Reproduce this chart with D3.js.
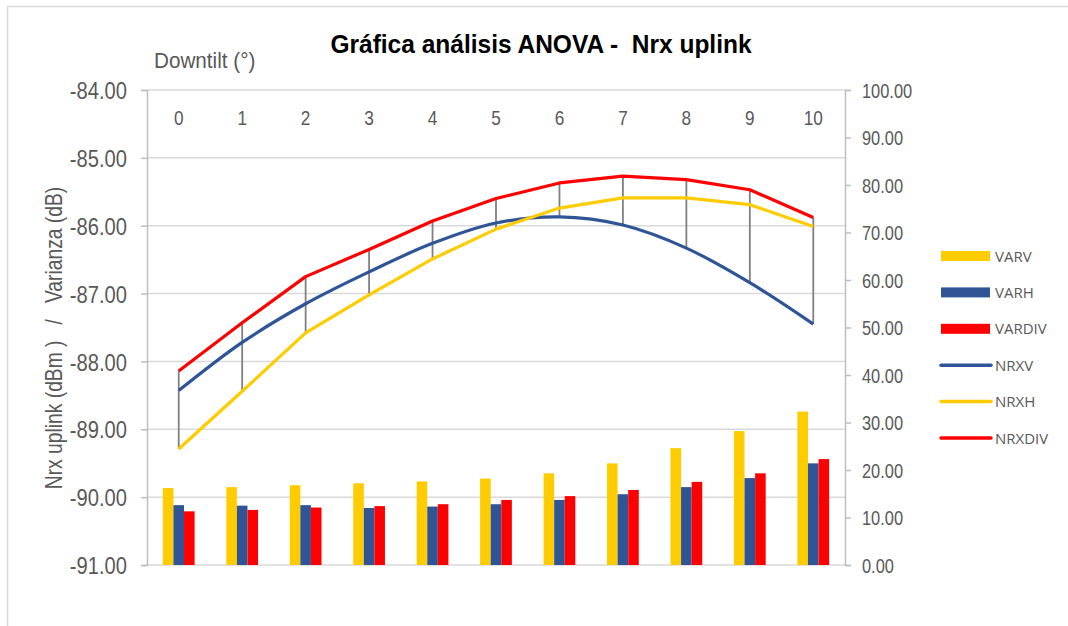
<!DOCTYPE html>
<html>
<head>
<meta charset="utf-8">
<title>Gráfica análisis ANOVA - Nrx uplink</title>
<script src="https://d3js.org/d3.v7.min.js"></script>
<style>
    * { margin: 0; padding: 0; }
    body { background: #fff; }
    text { font-family: "Liberation Sans", Arial, sans-serif; fill: #595959; white-space: pre; }
    .legend text { font-family: "Open Sans", "Liberation Sans", sans-serif; font-size: 15px; }
</style>
</head>
<body>
<script>
// categorias (downtilt en grados)
var downtilt = [0, 1, 2, 3, 4, 5, 6, 7, 8, 9, 10];

// varianzas (dB) - eje derecho
var varV   = [16.2, 16.4, 16.8, 17.2, 17.6, 18.2, 19.3, 21.4, 24.6, 28.2, 32.3];
var varH   = [12.6, 12.5, 12.6, 12.0, 12.3, 12.8, 13.7, 14.9, 16.4, 18.3, 21.4];
var varDiv = [11.3, 11.6, 12.1, 12.4, 12.8, 13.7, 14.5, 15.8, 17.5, 19.3, 22.3];

// Nrx uplink (dBm) - eje izquierdo
var nrxV   = [-88.43, -87.72, -87.15, -86.68, -86.26, -85.96, -85.87, -85.99, -86.33, -86.84, -87.45];
var nrxH   = [-89.29, -88.44, -87.58, -87.02, -86.49, -86.05, -85.74, -85.59, -85.59, -85.69, -86.01];
var nrxDiv = [-88.14, -87.43, -86.75, -86.35, -85.93, -85.60, -85.37, -85.27, -85.32, -85.47, -85.88];

var leftTicks  = [-84, -85, -86, -87, -88, -89, -90, -91];
var rightTicks = [0, 10, 20, 30, 40, 50, 60, 70, 80, 90, 100];

var W = 1068, H = 626;
var plot = { left: 147, right: 845, top: 90, bottom: 565 };

var svg = d3.select("body").append("svg").attr("width", W).attr("height", H);

// imita una fuente estrecha (Arial Narrow) escalando en horizontal
function narrow(k) {
    return function (sel) {
        sel.each(function () {
            var t = d3.select(this);
            var tx = +t.attr("x") || 0, ty = +t.attr("y") || 0;
            var prev = t.attr("transform") || "";
            t.attr("x", 0).attr("y", 0)
                .attr("transform", prev + " translate(" + tx + "," + ty + ") scale(" + k + ",1)");
        });
    };
}

// marco del grafico
svg.append("rect").attr("x", 7.5).attr("y", 6.5).attr("width", W).attr("height", H)
    .attr("fill", "none").attr("stroke", "#d9d9d9").attr("stroke-width", 1.5);

var x = d3.scaleBand().domain(downtilt).range([plot.left, plot.right]);
var xBar = d3.scaleBand().domain(["v", "h", "div"]).range([0, x.bandwidth() * 0.5]);
var yL = d3.scaleLinear().domain([-91, -84]).range([plot.bottom, plot.top]);
var yR = d3.scaleLinear().domain([0, 100]).range([plot.bottom, plot.top]);

// lineas de cuadricula
svg.append("g").selectAll("line").data(leftTicks).join("line")
    .attr("x1", plot.left).attr("x2", plot.right)
    .attr("y1", function (d) { return yL(d); }).attr("y2", function (d) { return yL(d); })
    .attr("stroke", "#d9d9d9").attr("stroke-width", 1.5);

var fmt = function (d) { return d.toFixed(2); };

// eje izquierdo
var axL = svg.append("g").attr("transform", "translate(" + plot.left + ",0)")
    .call(d3.axisLeft(yL).tickValues(leftTicks).tickSize(6).tickPadding(14).tickFormat(fmt));
axL.selectAll("text").attr("font-size", 24).attr("fill", "#595959").attr("dy", "0.36em").call(narrow(0.84));

// eje derecho
var axR = svg.append("g").attr("transform", "translate(" + plot.right + ",0)")
    .call(d3.axisRight(yR).tickValues(rightTicks).tickSize(6).tickPadding(11).tickFormat(fmt));
axR.selectAll("text").attr("font-size", 20.5).attr("fill", "#595959").attr("dy", "0.36em").call(narrow(0.8));

[axL, axR].forEach(function (a) {
    a.select(".domain").attr("stroke", "#bfbfbf").attr("stroke-width", 1.5);
    a.selectAll(".tick line").attr("stroke", "#bfbfbf").attr("stroke-width", 1.5);
});

// etiquetas de categoria arriba
svg.append("g").selectAll("text").data(downtilt).join("text")
    .attr("x", function (d) { return x(d) + x.bandwidth() / 2; })
    .attr("y", 125)
    .attr("text-anchor", "middle").attr("font-size", 21)
    .text(function (d) { return d; })
    .call(narrow(0.82));

svg.append("text").attr("x", 154).attr("y", 68).attr("font-size", 22).text("Downtilt (°)").call(narrow(0.94));

// titulo
svg.append("text").attr("x", 541).attr("y", 53).attr("text-anchor", "middle")
    .attr("font-size", 25).attr("font-weight", "bold").style("fill", "#000")
    .text("Gráfica análisis ANOVA -  Nrx uplink")
    .call(narrow(0.98));

// titulo eje y
svg.append("text").attr("transform", "translate(62,338) rotate(-90)")
    .attr("text-anchor", "middle").attr("font-size", 23.5)
    .text("Nrx uplink (dBm )   /   Varianza (dB)")
    .call(narrow(0.82));

// barras
var barSeries = [
    { key: "v", vals: varV, color: "#ffcc00" },
    { key: "h", vals: varH, color: "#2f5597" },
    { key: "div", vals: varDiv, color: "#ff0000" }
];
var bars = svg.append("g");
barSeries.forEach(function (s) {
    bars.append("g").selectAll("rect").data(s.vals).join("rect")
        .attr("x", function (d, i) { return x(downtilt[i]) + x.bandwidth() * 0.25 + xBar(s.key); })
        .attr("width", xBar.bandwidth())
        .attr("y", function (d) { return yR(d); })
        .attr("height", function (d) { return yR(0) - yR(d); })
        .attr("fill", s.color);
});

// lineas alto-bajo
var hiLo = downtilt.map(function (d, i) {
    var v = [nrxV[i], nrxH[i], nrxDiv[i]];
    return { c: d, hi: d3.max(v), lo: d3.min(v) };
});
svg.append("g").selectAll("line").data(hiLo).join("line")
    .attr("x1", function (d) { return x(d.c) + x.bandwidth() / 2; })
    .attr("x2", function (d) { return x(d.c) + x.bandwidth() / 2; })
    .attr("y1", function (d) { return yL(d.hi); })
    .attr("y2", function (d) { return yL(d.lo); })
    .attr("stroke", "#808080").attr("stroke-width", 1.8);

// series de linea
var lineSeries = [
    { vals: nrxV, color: "#2f5597", curve: d3.curveCatmullRom },
    { vals: nrxH, color: "#ffcc00", curve: d3.curveLinear },
    { vals: nrxDiv, color: "#ff0000", curve: d3.curveLinear }
];
lineSeries.forEach(function (s) {
    var line = d3.line()
        .x(function (d, i) { return x(downtilt[i]) + x.bandwidth() / 2; })
        .y(function (d) { return yL(d); })
        .curve(s.curve);
    svg.append("path").attr("d", line(s.vals))
        .attr("fill", "none").attr("stroke", s.color).attr("stroke-width", 3.2)
        .attr("stroke-linejoin", "round");
});

// leyenda
var legendItems = [
    { name: "VARV", color: "#ffcc00", type: "bar" },
    { name: "VARH", color: "#2f5597", type: "bar" },
    { name: "VARDIV", color: "#ff0000", type: "bar" },
    { name: "NRXV", color: "#2f5597", type: "line" },
    { name: "NRXH", color: "#ffcc00", type: "line" },
    { name: "NRXDIV", color: "#ff0000", type: "line" }
];
var lg = svg.append("g").attr("class", "legend");
var li = lg.selectAll("g").data(legendItems).join("g")
    .attr("transform", function (d, i) { return "translate(941," + (256 + i * 36.4) + ")"; });
li.filter(function (d) { return d.type === "bar"; }).append("rect")
    .attr("x", 0).attr("y", -5).attr("width", 49).attr("height", 10).attr("fill", function (d) { return d.color; });
li.filter(function (d) { return d.type === "line"; }).append("line")
    .attr("x1", 0).attr("x2", 50).attr("y1", 0).attr("y2", 0)
    .attr("stroke", function (d) { return d.color; }).attr("stroke-width", 3.5).attr("stroke-linecap", "round");
li.append("text").attr("x", 54).attr("y", 5.5).text(function (d) { return d.name; });
</script>
</body>
</html>
